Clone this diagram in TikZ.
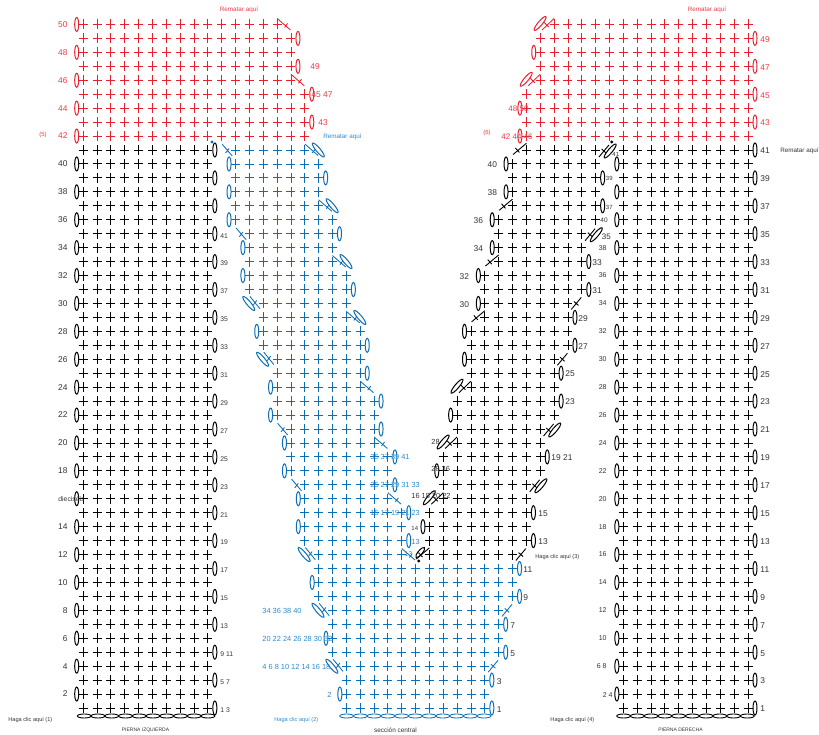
\documentclass[tikz,border=0pt]{standalone}
\usepackage{fontspec}
\setmainfont{Liberation Sans}
\definecolor{cred}{HTML}{E8202E}
\definecolor{cblue}{HTML}{0B6FB8}
\definecolor{cgray}{HTML}{333333}
\definecolor{lblue}{HTML}{2E8BCB}
\definecolor{lred}{HTML}{EE3A44}
\newcommand\XX[1]{(83.2+13.85*(#1))}
\newcommand\YY[1]{(708-13.95*(#1-1))}
% row of crosses: row, first column, last column
\newcommand\crow[3]{\pgfmathsetmacro\yy{\YY{#1}}\foreach\c in {#2,...,#3}{\pgfmathsetmacro\xx{\XX{\c}}\draw (\xx-4.5,\yy)--(\xx+4.5,\yy) (\xx,\yy-5)--(\xx,\yy+5);}}
\newcommand\setp[2]{\pgfmathsetmacro\xx{\XX{#2}}\pgfmathsetmacro\yy{\YY{#1}}}
\newcommand\lov[2]{\setp{#1}{#2}\draw[line width=1pt] (\xx-6.5,\yy) ellipse [x radius=2pt,y radius=7pt];}
\newcommand\rov[2]{\setp{#1}{#2}\draw[line width=1pt] (\xx+7,\yy) ellipse [x radius=2pt,y radius=7pt];}
\newcommand\tov[4]{\draw[line width=1pt,rotate around={#3:(#1,#2)}] (#1,#2) ellipse [x radius=#4pt,y radius=2.1pt];}
\newcommand\lovs[2]{\foreach\r in {#1}{\lov{\r}{#2}}}
\newcommand\rovs[2]{\foreach\r in {#1}{\rov{\r}{#2}}}
% diagonal stitches
\newcommand\dr[2]{\setp{#1}{#2}\draw (\xx,\yy-6)--(\xx+13.3,\yy+5.5) (\xx+10.5,\yy-1)--(\xx+7.5,\yy+3);}
\newcommand\drv[2]{\dr{#1}{#2}\tov{\xx+13.5}{\yy}{-50}{9}}
\newcommand\dl[2]{\setp{#1}{#2}\draw (\xx-13.3,\yy-5.7)--(\xx-3.3,\yy+6) (\xx-6.5,\yy-1.5)--(\xx-10,\yy+3);}
\newcommand\dlv[2]{\setp{#1}{#2}\draw (\xx-13.3,\yy-7)--(\xx-3.3,\yy+5.3) (\xx-6.5,\yy-3)--(\xx-10,\yy+1.5);\tov{\xx-14.5}{\yy}{-50}{9}}
\newcommand\dmr[2]{\setp{#1}{#2}\draw (\xx+3.3,\yy+6)--(\xx+13.3,\yy-6) (\xx+6,\yy-2)--(\xx+10.5,\yy+2);}
\newcommand\dmrv[2]{\setp{#1}{#2}\draw (\xx+3.3,\yy+7)--(\xx+13.3,\yy-5) (\xx+6,\yy-1)--(\xx+10.5,\yy+3);\tov{\xx+14.5}{\yy+1}{50}{9}}
\newcommand\dml[2]{\setp{#1}{#2}\draw (\xx-13.3,\yy+4.5)--(\xx,\yy-6.7) (\xx-11,\yy-2)--(\xx-7,\yy+2.5);}
\newcommand\dmlv[2]{\setp{#1}{#2}\draw (\xx-12,\yy+5.5)--(\xx,\yy-6) (\xx-10,\yy-2)--(\xx-5.5,\yy+2.5);\tov{\xx-14}{\yy-1}{50}{9}}
% labels
\newcommand\lb[6]{\node[anchor=#1,inner sep=0pt,text=#2,font=\fontsize{#3}{#3}\selectfont] at (#4,#5) {#6};}
\tikzset{chart/.style={line width=0.9pt},thinner/.style={line width=0.85pt}}
\begin{document}
\begin{tikzpicture}[x=1pt,y=-1pt,chart]
\useasboundingbox (0,0) rectangle (819,735);
% ---------- left leg
\begin{scope}[color=black]
\foreach\r in {1,...,41}{\crow{\r}{0}{9}}
\lovs{2,4,...,40}{0}
\rovs{1,3,...,41}{9}
\foreach\k in {0,...,9}{\draw (84.2+13.75*\k,716) ellipse [x radius=6.9pt,y radius=2pt];}
% ---------- right leg
\foreach\r in {1,...,41}{\crow{\r}{39}{48}}
\lovs{2,4,...,40}{39}
\rovs{1,3,...,41}{48}
\foreach\k in {0,...,9}{\draw (623.6+13.75*\k,716) ellipse [x radius=6.9pt,y radius=2pt];}
% ---------- centre right, black
\crow{12}{25}{31}\crow{13}{25}{32}\crow{14}{25}{32}\crow{15}{25}{32}
\crow{16}{26}{32}\crow{17}{26}{32}\crow{18}{26}{33}\crow{19}{26}{33}
\crow{20}{27}{33}\crow{21}{27}{33}\crow{22}{27}{34}\crow{23}{27}{34}
\crow{24}{28}{34}\crow{25}{28}{34}\crow{26}{28}{34}\crow{27}{28}{35}\crow{28}{28}{35}
\crow{29}{29}{35}\crow{30}{29}{35}\crow{31}{29}{36}\crow{32}{29}{36}
\crow{33}{30}{36}\crow{34}{30}{36}\crow{35}{30}{36}\crow{36}{30}{37}
\crow{37}{31}{37}\crow{38}{31}{37}\crow{39}{31}{37}\crow{40}{31}{37}\crow{41}{32}{37}
\lov{40}{31}\lov{38}{31}\lov{36}{30}\lov{34}{30}\lov{32}{29}\lov{30}{29}
\lov{28}{28}\lov{26}{28}\lov{22}{27}\lov{18}{26}\lov{14}{25}
\rov{39}{37}\rov{37}{37}\rov{33}{36}\rov{31}{36}\rov{29}{35}\rov{27}{35}
\rov{25}{34}\rov{23}{34}\rov{19}{33}\rov{15}{32}\rov{13}{32}
\dml{41}{32}\dml{37}{31}\dml{33}{30}\dml{29}{29}
\dmlv{24}{28}\dmlv{20}{27}\dmlv{16}{26}
\dml{12}{25}\tov{429.5-9.3}{552.5}{50}{6.5}
\dmrv{41}{37}\dmrv{35}{36}\dmr{30}{35}\dmr{26}{34}\dmrv{21}{33}\dmrv{17}{32}\dmr{12}{31}
\fill (611.7,142) circle [radius=1.7pt];
\fill (418.7,561) circle [radius=1.7pt];
\end{scope}
% ---------- centre, blue
\begin{scope}[color=cblue,thinner]
\crow{1}{19}{29}\crow{2}{19}{29}\crow{3}{19}{29}\crow{4}{19}{29}
\crow{5}{18}{30}\crow{6}{18}{30}\crow{7}{18}{30}\crow{8}{18}{30}
\crow{9}{17}{31}\crow{10}{17}{31}\crow{11}{17}{31}
\crow{12}{17}{23}\crow{13}{16}{23}\crow{14}{16}{23}\crow{15}{16}{23}
\crow{16}{16}{22}\crow{17}{16}{22}\crow{18}{15}{22}\crow{19}{15}{22}
\crow{20}{15}{21}\crow{21}{15}{21}\crow{22}{14}{21}\crow{23}{14}{21}
\crow{24}{14}{20}\crow{25}{14}{20}\crow{26}{14}{20}\crow{27}{13}{20}\crow{28}{13}{20}
\crow{29}{13}{19}\crow{30}{13}{19}\crow{31}{12}{19}\crow{32}{12}{19}
\crow{33}{12}{18}\crow{34}{12}{18}\crow{35}{12}{18}\crow{36}{11}{18}
\crow{37}{11}{17}\crow{38}{11}{17}\crow{39}{11}{17}\crow{40}{11}{17}\crow{41}{11}{16}
\lov{40}{11}\lov{38}{11}\lov{36}{11}\lov{34}{12}\lov{32}{12}\lov{28}{13}
\lov{24}{14}\lov{22}{14}\lov{20}{15}\lov{18}{15}\lov{16}{16}\lov{14}{16}
\lov{10}{17}\lov{6}{18}\lov{2}{19}
\rov{39}{17}\rov{35}{18}\rov{31}{19}\rov{27}{20}\rov{25}{20}\rov{23}{21}\rov{21}{21}
\rov{19}{22}\rov{17}{22}\rov{15}{23}\rov{13}{23}\rov{11}{31}\rov{9}{31}\rov{7}{30}\rov{5}{30}\rov{3}{29}\rov{1}{29}
\dl{41}{11}\dl{35}{12}\dlv{30}{13}\dlv{26}{14}\dl{21}{15}\dl{17}{16}\dlv{12}{17}\dlv{8}{18}\dlv{4}{19}
\drv{41}{16}\drv{37}{17}\drv{33}{18}\drv{29}{19}\dr{24}{20}\dr{20}{21}\dr{16}{22}\dr{12}{23}
\dmr{8}{30}\dmr{4}{29}
\foreach\k in {0,...,10}{\draw (346.6+13.75*\k,716) ellipse [x radius=6.9pt,y radius=2pt];}
\fill (212,142) circle [radius=1.6pt];
\end{scope}
% ---------- red, top
\begin{scope}[color=cred,thinner]
\foreach\r in {42,43,44,45}{\crow{\r}{0}{16}\crow{\r}{32}{48}}
\crow{46}{0}{15}\crow{47}{0}{15}\crow{48}{0}{15}\crow{49}{0}{15}\crow{50}{0}{14}
\crow{46}{33}{48}\crow{47}{33}{48}\crow{48}{33}{48}\crow{49}{33}{48}\crow{50}{34}{48}
\lovs{42,44,...,50}{0}
\rov{43}{16}\rov{45}{16}\rov{47}{15}\rov{49}{15}
\dr{50}{14}\dr{46}{15}
\lov{42}{32}\lov{44}{32}\lov{48}{33}
\rovs{43,45,47,49}{48}
\dmlv{46}{33}\dmlv{50}{34}
\end{scope}
% ---------- left labels, left leg
\foreach\n/\r in {50/50,48/48,46/46,44/44,42/42}{\pgfmathsetmacro\yy{\YY{\r}}\lb{east}{lred}{8.4}{68}{\yy}{\n}}
\foreach\r in {40,38,36,34,32,30,28,26,24,22,20,18,14,12,10,8,6,4,2}{\pgfmathsetmacro\yy{\YY{\r}}\lb{east}{cgray}{8.4}{68}{\yy}{\r}}
\lb{west}{cgray}{6.8}{58}{499}{dieciséis}
\foreach\n/\r in {1 3/1,5 7/3,9 11/5,13/7,15/9,17/11,19/13,21/15,23/17,25/19,27/21,29/23,31/25,33/27,35/29,37/31,39/33,41/35}{\pgfmathsetmacro\yy{\YY{\r}+2}\lb{west}{cgray}{6.8}{220}{\yy}{\n}}
% ---------- right leg labels
\foreach\r in {1,3,...,41}{\pgfmathsetmacro\yy{\YY{\r}+1}\lb{west}{cgray}{8.4}{760}{\yy}{\r}}
\foreach\n/\r in {38/34,36/32,34/30,32/28,30/26,28/24,26/22,24/20,22/18,20/16,18/14,16/12,14/10,12/8,10/6,6 8/4}{\pgfmathsetmacro\yy{\YY{\r}}\lb{east}{cgray}{7}{607}{\yy}{\n}}
\lb{east}{cgray}{7}{613}{695}{2 4}
\lb{west}{cgray}{6}{612}{154}{41}
\lb{west}{cgray}{6}{605.5}{178}{39}
\lb{west}{cgray}{6}{605.5}{207.5}{37}
\lb{west}{cgray}{6.5}{600}{220.5}{40}
\lb{west}{cgray}{8}{601.5}{237}{35}
% ---------- red labels
\lb{west}{lred}{8.4}{310}{66.5}{49}
\lb{west}{lred}{8.4}{311}{95}{45 47}
\lb{west}{lred}{8.4}{318}{123}{43}
\foreach\n/\r in {49/49,47/47,45/45,43/43}{\pgfmathsetmacro\yy{\YY{\r}+1}\lb{west}{lred}{8.4}{760}{\yy}{\n}}
\lb{west}{lred}{8}{508}{109}{48 50}
\lb{west}{lred}{8}{501}{137}{42 44 46}
\lb{center}{lred}{6}{43}{135}{(5)}
\lb{center}{lred}{6}{487}{133}{(6)}
\lb{center}{lred}{6.3}{239}{10}{Rematar aquí}
\lb{center}{lred}{6.3}{707}{10}{Rematar aquí}
\lb{center}{lblue}{6.3}{342.5}{136.5}{Rematar aquí}
\lb{east}{cgray}{6.3}{819}{151}{Rematar aquí}
% ---------- blue labels
\lb{west}{lblue}{7.4}{262}{611}{34 36 38 40}
\lb{west}{lblue}{7.4}{262}{639}{20 22 24 26 28 30 32}
\lb{west}{lblue}{7.4}{262}{667}{4 6 8 10 12 14 16 18}
\lb{west}{lblue}{7.4}{327}{695}{2}
\lb{west}{lblue}{7.4}{370}{457}{35 37 39 41}
\lb{west}{lblue}{7.4}{370}{485}{25 27 29 31 33}
\lb{west}{lblue}{7.4}{370}{513}{15 17 19 21 23}
\lb{west}{lblue}{7.4}{411}{541.5}{13}
\lb{west}{lblue}{7}{404}{554.5}{13}
% ---------- black centre labels
\lb{west}{cgray}{7.4}{411}{496}{16 18 20 22}
\lb{west}{cgray}{6}{411}{528}{14}
\lb{west}{cgray}{7.4}{431}{442}{28}
\lb{west}{cgray}{7.4}{431}{469}{28 36}
\lb{east}{cgray}{8.4}{497.5}{165}{40}
\lb{east}{cgray}{8.4}{497.5}{193}{38}
\lb{east}{cgray}{8.4}{483.5}{221}{36}
\lb{east}{cgray}{8.4}{483.5}{249}{34}
\lb{east}{cgray}{8.4}{469.5}{277}{32}
\lb{east}{cgray}{8.4}{469.5}{305}{30}
\lb{west}{cgray}{8.4}{523}{570}{11}
\lb{west}{cgray}{8.4}{523}{598}{9}
\lb{west}{cgray}{8.4}{510}{625.5}{7}
\lb{west}{cgray}{8.4}{510}{654}{5}
\lb{west}{cgray}{8.4}{496.5}{681.5}{3}
\lb{west}{cgray}{8.4}{496.5}{710}{1}
\lb{west}{cgray}{8.4}{538}{514}{15}
\lb{west}{cgray}{8.4}{538}{542}{13}
\lb{west}{cgray}{8.4}{551}{458}{19 21}
\lb{west}{cgray}{8.4}{565}{374}{25}
\lb{west}{cgray}{8.4}{565}{402}{23}
\lb{west}{cgray}{8.4}{578}{319}{29}
\lb{west}{cgray}{8.4}{578}{347}{27}
\lb{west}{cgray}{8.4}{592}{262.5}{33}
\lb{west}{cgray}{8.4}{592}{291}{31}
% ---------- captions
\lb{west}{cgray}{5.6}{8}{720}{Haga clic aquí (1)}
\lb{west}{lblue}{5.6}{274}{720}{Haga clic aquí (2)}
\lb{west}{cgray}{5.6}{535}{556.7}{Haga clic aquí (3)}
\lb{west}{cgray}{5.6}{550}{720}{Haga clic aquí (4)}
\lb{center}{cgray}{5}{145.5}{730}{PIERNA IZQUIERDA}
\lb{center}{cgray}{5}{680.5}{730}{PIERNA DERECHA}
\lb{center}{cgray}{6.4}{395.5}{730}{sección central}
\end{tikzpicture}
\end{document}
